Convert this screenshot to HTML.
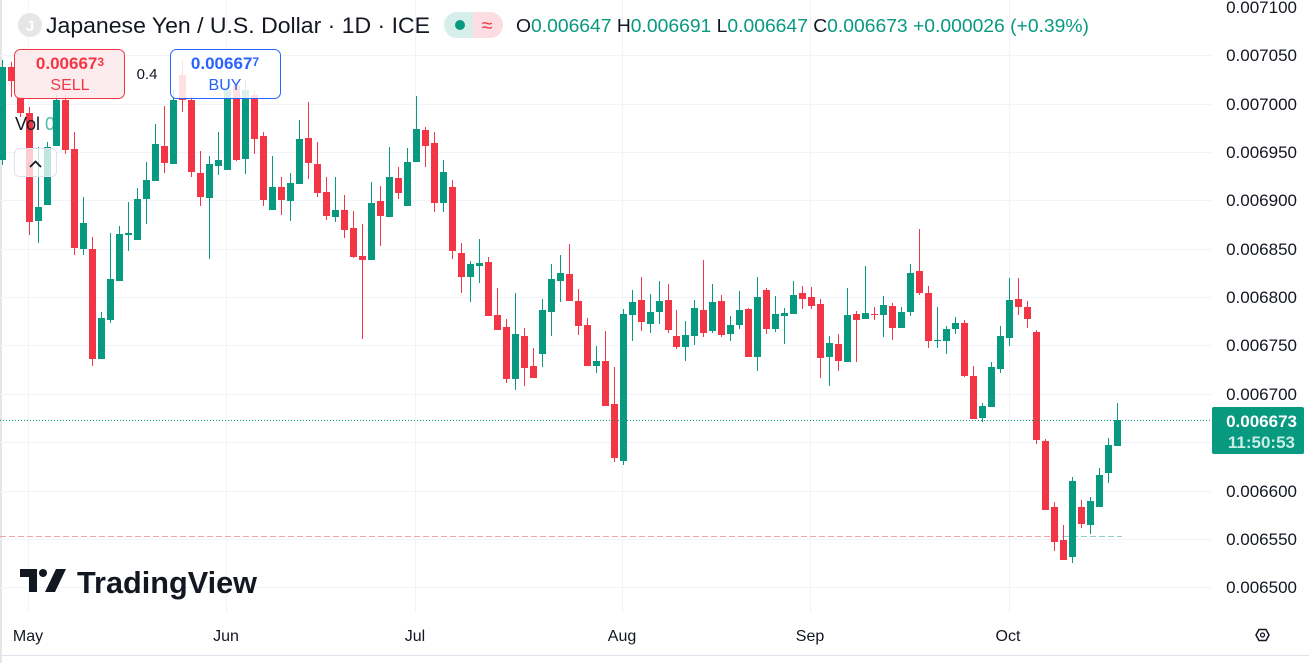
<!DOCTYPE html>
<html><head><meta charset="utf-8">
<style>
html,body{margin:0;padding:0;background:#fff;}
body{width:1309px;height:663px;overflow:hidden;position:relative;font-family:"Liberation Sans",sans-serif;}
svg{position:absolute;left:0;top:0;}
</style></head>
<body>
<svg id="c" width="1309" height="663" xmlns="http://www.w3.org/2000/svg" font-family="Liberation Sans, sans-serif">
<rect x="0" y="0" width="1309" height="663" fill="#fff"/>
<rect x="0" y="0" width="2" height="663" fill="#e6e6e6"/>
<g stroke="#f0f3fa" stroke-width="1">
<line x1="0" x2="1212" y1="55.5" y2="55.5"/><line x1="0" x2="1212" y1="104.5" y2="104.5"/>
<line x1="0" x2="1212" y1="152.5" y2="152.5"/><line x1="0" x2="1212" y1="200.5" y2="200.5"/>
<line x1="0" x2="1212" y1="249.5" y2="249.5"/><line x1="0" x2="1212" y1="297.5" y2="297.5"/>
<line x1="0" x2="1212" y1="345.5" y2="345.5"/><line x1="0" x2="1212" y1="394.5" y2="394.5"/>
<line x1="0" x2="1212" y1="442.5" y2="442.5"/><line x1="0" x2="1212" y1="491.5" y2="491.5"/>
<line x1="0" x2="1212" y1="539.5" y2="539.5"/><line x1="0" x2="1212" y1="587.5" y2="587.5"/>
<line x1="28.5" x2="28.5" y1="0" y2="613"/><line x1="226.5" x2="226.5" y1="0" y2="613"/>
<line x1="415.5" x2="415.5" y1="0" y2="613"/><line x1="622.5" x2="622.5" y1="0" y2="613"/>
<line x1="810.5" x2="810.5" y1="0" y2="613"/><line x1="1009.5" x2="1009.5" y1="0" y2="613"/>
</g>
<line x1="0" x2="1309" y1="655.5" y2="655.5" stroke="#e0e3eb"/>
<line x1="0" x2="1063" y1="536.5" y2="536.5" stroke="#f7a5ab" stroke-dasharray="6 3"/>
<line x1="1063" x2="1122" y1="536.5" y2="536.5" stroke="#8fd1c6" stroke-dasharray="6 3"/>
<g id="candles"></g>
<line x1="0" x2="1212" y1="420.5" y2="420.5" stroke="#089981" stroke-dasharray="1 2"/>

<!-- TradingView logo -->
<g fill="#131722">
<path d="M20 569 H37 V592 H29 V577 H20 Z"/>
<circle cx="43" cy="573" r="4"/>
<path d="M56 569 H66 L55 592 H45 Z"/>
</g>
<text x="77" y="593" font-size="31" font-weight="bold" fill="#131722" textLength="180" lengthAdjust="spacingAndGlyphs">TradingView</text>

<!-- header -->
<circle cx="30" cy="25" r="12" fill="#e6e6e6"/>
<text x="30" y="31" font-size="15" fill="#fff" text-anchor="middle" font-weight="bold">J</text>
<text x="46" y="33" font-size="22" fill="#131722" textLength="384" lengthAdjust="spacingAndGlyphs">Japanese Yen / U.S. Dollar · 1D · ICE</text>
<path d="M457 12 H473 V38 H457 A13 13 0 0 1 457 12 Z" fill="#d6efea"/>
<path d="M473 12 H490 A13 13 0 0 1 490 38 H473 Z" fill="#fcdde3"/>
<circle cx="460" cy="25" r="5" fill="#089981"/>
<text x="487" y="32" font-size="20" fill="#f23645" text-anchor="middle">≈</text>
<text x="516" y="32" font-size="18" fill="#089981" textLength="573" lengthAdjust="spacingAndGlyphs"><tspan fill="#131722">O</tspan>0.006647 <tspan fill="#131722">H</tspan>0.006691 <tspan fill="#131722">L</tspan>0.006647 <tspan fill="#131722">C</tspan>0.006673 +0.000026 (+0.39%)</text>

<!-- sell / buy -->
<rect x="14.5" y="49.5" width="110" height="49" rx="6" fill="#fde9eb" fill-opacity="0.85" stroke="#f23645"/>
<text x="70" y="69" font-size="17" font-weight="bold" fill="#f23645" text-anchor="middle">0.00667<tspan font-size="12" dy="-3">3</tspan></text>
<text x="70" y="90" font-size="16" fill="#f23645" text-anchor="middle">SELL</text>
<text x="147" y="79" font-size="15" fill="#131722" text-anchor="middle">0.4</text>
<rect x="170.5" y="49.5" width="110" height="49" rx="6" fill="#ffffff" fill-opacity="0.85" stroke="#2962ff"/>
<text x="225" y="69" font-size="17" font-weight="bold" fill="#2962ff" text-anchor="middle">0.00667<tspan font-size="12" dy="-3">7</tspan></text>
<text x="225" y="90" font-size="16" fill="#2962ff" text-anchor="middle">BUY</text>
<text x="15" y="130" font-size="18" fill="#131722">Vol <tspan fill="#089981" fill-opacity="0.7">0</tspan></text>
<rect x="14.5" y="148.5" width="42" height="28" rx="5" fill="#fff" fill-opacity="0.75" stroke="#e0e3eb"/>
<path d="M30 167 L35.5 161.5 L41 167" fill="none" stroke="#131722" stroke-width="1.8"/>

<!-- right axis -->
<g font-size="17" fill="#131722" text-anchor="end">
<text x="1297" y="13">0.007100</text><text x="1297" y="61">0.007050</text>
<text x="1297" y="110">0.007000</text><text x="1297" y="158">0.006950</text>
<text x="1297" y="206">0.006900</text><text x="1297" y="255">0.006850</text>
<text x="1297" y="303">0.006800</text><text x="1297" y="351">0.006750</text>
<text x="1297" y="400">0.006700</text><text x="1297" y="497">0.006600</text>
<text x="1297" y="545">0.006550</text><text x="1297" y="593">0.006500</text>
</g>
<rect x="1212" y="407" width="92" height="47" rx="2" fill="#089981"/>
<text x="1297" y="427" font-size="17" fill="#fff" text-anchor="end" font-weight="bold">0.006673</text>
<text x="1295" y="448" font-size="17" fill="#c8ece6" text-anchor="end" font-weight="bold">11:50:53</text>
<path d="M1256 635 L1259 629.5 H1266 L1269 635 L1266 640.5 H1259 Z" fill="none" stroke="#131722" stroke-width="1.5"/>
<circle cx="1262.5" cy="635" r="2" fill="none" stroke="#131722" stroke-width="1.3"/>

<!-- time axis -->
<g font-size="16" fill="#131722" text-anchor="middle">
<text x="28" y="641">May</text><text x="226" y="641">Jun</text><text x="415" y="641">Jul</text>
<text x="622" y="641">Aug</text><text x="810" y="641">Sep</text><text x="1008" y="641">Oct</text>
</g>
</svg>
<script>
var d=[
[0,'g',60,67,160,165],[1,'r',62,67,81,97],[2,'r',97,97,113,117],[3,'r',107,113,222,235],[4,'g',147,207,221,243],
[5,'g',142,147,205,205],[6,'g',95,100,146,146],[7,'r',95,100,150,154],[8,'r',132,149,248,255],[9,'g',197,223,249,255],
[10,'r',237,249,359,366],[11,'g',312,318,359,359],[12,'g',233,279,320,323],[13,'g',226,234,281,281],[14,'g',202,233,235,251],
[15,'g',188,199,240,240],[16,'g',162,180,199,224],[17,'g',124,144,181,181],[18,'r',106,146,163,173],[19,'g',90,100,164,164],
[20,'r',60,75,100,112],[21,'r',95,100,172,177],[22,'r',151,173,197,206],[23,'g',156,164,198,259],[24,'g',132,160,166,175],
[25,'g',80,90,170,170],[26,'r',80,85,160,161],[27,'g',80,90,159,174],[28,'r',90,95,139,154],[29,'r',132,136,200,206],
[30,'g',156,187,210,210],[31,'r',177,187,200,215],[32,'g',173,183,201,221],[33,'g',120,139,184,184],[34,'r',102,138,163,179],
[35,'r',142,164,193,197],[36,'r',177,192,216,220],[37,'g',177,210,217,222],[38,'r',195,210,230,238],[39,'r',211,228,257,258],
[40,'r',224,256,260,339],[41,'g',182,203,260,260],[42,'r',186,201,216,246],[43,'g',147,177,217,217],[44,'r',167,178,193,199],
[45,'g',148,162,206,206],[46,'g',96,129,162,162],[47,'r',127,130,146,167],[48,'r',132,143,203,212],[49,'g',160,172,203,212],
[50,'r',180,187,251,259],[51,'r',243,253,277,293],[52,'g',261,264,277,302],[53,'g',239,263,266,283],[54,'r',257,262,316,316],
[55,'r',288,315,330,330],[56,'r',319,327,379,383],[57,'g',293,334,379,390],[58,'r',328,336,368,386],[59,'r',348,366,378,378],
[60,'g',299,310,354,367],[61,'g',264,279,312,336],[62,'g',255,273,281,302],[63,'r',244,274,301,301],[64,'r',289,301,326,335],
[65,'r',318,325,366,366],[66,'g',346,361,366,373],[67,'r',331,361,406,406],[68,'r',367,404,458,462],[69,'g',309,314,461,465],
[70,'g',290,302,315,341],[71,'r',277,300,322,331],[72,'g',294,312,324,333],[73,'g',281,301,312,324],[74,'r',284,300,330,333],
[75,'r',310,336,347,349],[76,'g',321,335,347,361],[77,'g',300,308,336,345],[78,'r',260,310,333,337],[79,'g',284,302,331,333],
[80,'r',295,301,335,337],[81,'g',316,325,334,341],[82,'g',291,310,325,329],[83,'r',308,309,357,357],[84,'g',277,297,357,371],
[85,'r',288,290,329,334],[86,'g',296,314,329,332],[87,'g',308,313,316,344],[88,'g',281,295,314,314],[89,'r',286,293,299,309],
[90,'r',287,297,306,309],[91,'r',299,304,358,378],[92,'g',336,343,357,386],[93,'r',334,344,361,371],[94,'g',288,315,362,362],
[95,'r',311,314,320,362],[96,'g',266,313,319,319],[97,'r',307,314,315,320],[98,'g',296,305,315,337],[99,'r',303,306,328,340],
[100,'g',307,312,328,328],[101,'g',264,273,312,316],[102,'r',229,271,293,295],[103,'r',286,293,341,348],[104,'g',307,340,341,348],
[105,'g',326,329,341,354],[106,'g',317,323,329,334],[107,'r',320,323,376,377],[108,'r',366,376,419,419],[109,'g',403,406,418,422],
[110,'g',362,367,407,407],[111,'g',326,336,369,373],[112,'g',278,300,338,346],[113,'r',278,299,307,315],[114,'r',301,307,319,328],
[115,'r',330,332,440,444],[116,'r',439,441,510,510],[117,'r',502,507,542,551],[118,'r',525,540,560,560],[119,'g',477,481,557,563],
[120,'r',500,507,524,528],[121,'g',497,501,525,534],[122,'g',468,475,507,507],[123,'g',438,445,473,483],[124,'g',403,420,446,446]];
var g=document.getElementById('candles'),s='';
d.forEach(function(c){
 var x=Math.round(1117-8.99*(124-c[0]))+0.5,col=c[1]=='g'?'#089981':'#f23645';
 var bt=c[3],bb=Math.max(c[4],c[3]+1);
 s+='<line x1="'+x+'" x2="'+x+'" y1="'+c[2]+'" y2="'+c[5]+'" stroke="'+col+'"/>';
 s+='<rect x="'+(x-3.5)+'" y="'+bt+'" width="7" height="'+(bb-bt)+'" fill="'+col+'"/>';
});
g.innerHTML=s;
</script>
</body></html>
